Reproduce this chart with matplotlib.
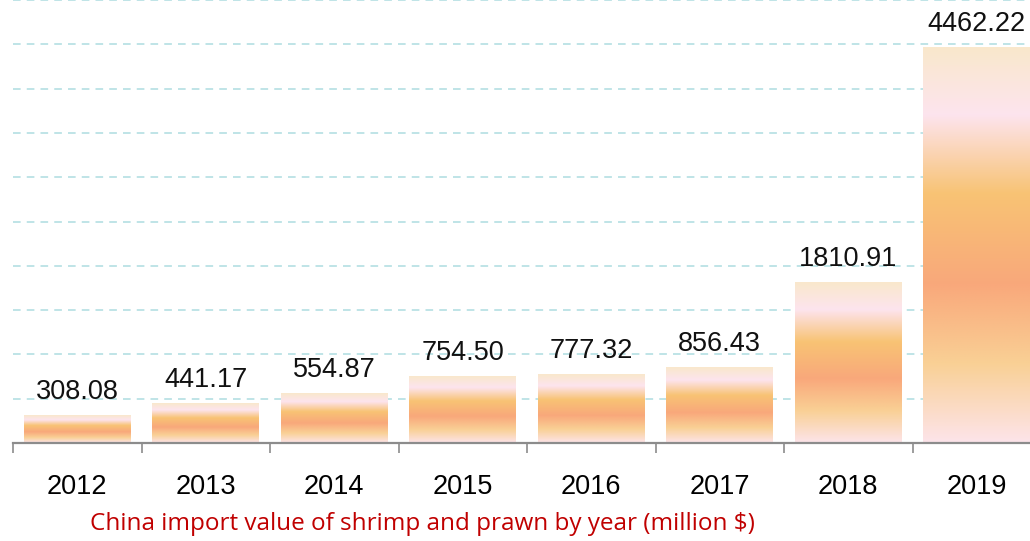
import matplotlib.pyplot as plt
import numpy as np
from matplotlib.colors import LinearSegmentedColormap

years = ["2012", "2013", "2014", "2015", "2016", "2017", "2018", "2019"]
values = [308.08, 441.17, 554.87, 754.50, 777.32, 856.43, 1810.91, 4462.22]
title = "China import value of shrimp and prawn by year (million $)"

# vertical gradient of each bar, from top (0) to bottom (1)
grad = LinearSegmentedColormap.from_list("bar", [
    (0.0, "#F9E8CC"),
    (0.17, "#FDE4EE"),
    (0.37, "#F8C374"),
    (0.6, "#F9A87B"),
    (0.8, "#F9D095"),
    (1.0, "#FDE4EA"),
])

fig = plt.figure(figsize=(10.3, 5.41), dpi=100)
ax = fig.add_axes([13 / 1030, 98 / 541, 1028 / 1030, 443 / 541])

for y in np.arange(500, 5001, 500):
    ax.axhline(y, color="#AEDCE0", lw=1.1, ls=(0, (5, 4)), zorder=1)

g = np.linspace(0, 1, 256).reshape(-1, 1)
width = 0.83
for i, v in enumerate(values):
    x0 = i + (1 - width) / 2
    ax.imshow(g, cmap=grad, extent=[x0, x0 + width, 0, v], aspect="auto",
              interpolation="bilinear", zorder=2)
    ax.annotate(f"{v:.2f}", (i + 0.5, v), xytext=(0, 7.5), textcoords="offset points",
                ha="center", va="bottom", fontsize=19.5, family="Liberation Sans",
                color="#111111", zorder=3)

ax.set_xlim(0, len(years))
ax.set_ylim(0, 5000)

for s in ["left", "right", "top"]:
    ax.spines[s].set_visible(False)
ax.spines["bottom"].set_color("#8C8C8C")
ax.spines["bottom"].set_linewidth(1.6)
ax.spines["bottom"].set_zorder(4)

ax.set_yticks([])
ax.set_xticks(np.arange(len(years) + 1))
ax.set_xticklabels([])
ax.tick_params(axis="x", which="major", length=7, width=1.2, color="#8C8C8C")
ax.set_xticks(np.arange(len(years)) + 0.5, minor=True)
ax.set_xticklabels(years, minor=True, fontsize=19.5, family="Liberation Sans")
ax.tick_params(axis="x", which="minor", length=0, pad=22)

fig.text(422 / 1030, 1 - 524 / 541, title, color="#C00000", fontsize=17.5,
         family="Open Sans", ha="center", va="center")

fig.savefig("out.png", dpi=100)
